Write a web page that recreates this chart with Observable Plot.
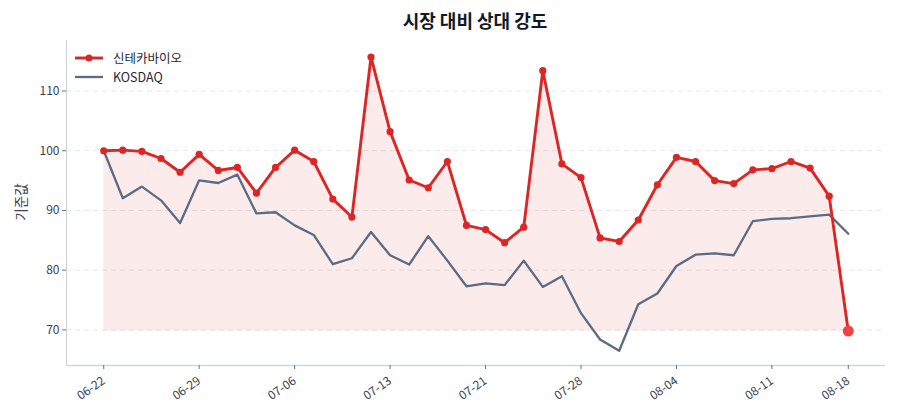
<!DOCTYPE html>
<html><head><meta charset="utf-8">
<script src="https://cdn.jsdelivr.net/npm/d3@7"></script>
<script src="https://cdn.jsdelivr.net/npm/@observablehq/plot@0.6"></script>
<style>
html,body{margin:0;padding:0;background:#fff;overflow:hidden;}
body{font-family:"Noto Sans CJK KR","Noto Sans",sans-serif;}
#wrap{position:relative;width:900px;height:420px;}
#title{position:absolute;left:50px;top:0;width:850px;height:40px;line-height:40px;text-align:center;font-size:18px;font-weight:700;color:#111827;}
#chart{position:absolute;left:0;top:38px;}
#ylabel{position:absolute;left:20px;top:202px;transform:translate(-50%,-50%) rotate(-90deg);font-size:13.5px;color:#374151;white-space:nowrap;}
#legend{position:absolute;left:75px;top:48px;font-size:12.5px;color:#1f2937;}
.row{display:flex;align-items:center;height:19px;}
.row svg{margin-right:10px;}
</style></head>
<body>
<div id="wrap">
  <div id="title">시장 대비 상대 강도</div>
  <div id="chart"></div>
  <div id="ylabel">기준값</div>
  <div id="legend">
    <div class="row"><svg width="28" height="10"><line x1="0" y1="5" x2="28" y2="5" stroke="#dc2626" stroke-width="2.9"/><circle cx="14" cy="5" r="3.5" fill="#dc2626"/></svg>신테카바이오</div>
    <div class="row"><svg width="28" height="10"><line x1="0" y1="5" x2="28" y2="5" stroke="#5b6b84" stroke-width="2.3"/></svg>KOSDAQ</div>
  </div>
</div>
<script>
const dates = ["06-22","06-23","06-24","06-25","06-26","06-29","06-30","07-01","07-02","07-03",
  "07-06","07-07","07-08","07-09","07-10","07-13","07-14","07-15","07-16","07-20",
  "07-21","07-22","07-23","07-24","07-27","07-28","07-29","07-30","07-31","08-03",
  "08-04","08-05","08-06","08-07","08-10","08-11","08-12","08-13","08-14","08-18"];
const stock = [100.0,100.1,99.9,98.7,96.4,99.4,96.7,97.2,92.9,97.2,
  100.1,98.2,91.9,88.9,115.7,103.2,95.1,93.8,98.2,87.5,
  86.8,84.6,87.2,113.4,97.8,95.5,85.4,84.8,88.4,94.3,
  98.9,98.2,95.0,94.5,96.8,97.0,98.2,97.1,92.4,69.8];
const kosdaq = [100.0,92.05,94.0,91.7,87.9,95.05,94.6,96.0,89.5,89.7,
  87.5,85.9,81.0,82.0,86.4,82.5,80.95,85.7,81.6,77.3,
  77.8,77.5,81.6,77.2,79.0,72.8,68.4,66.5,74.3,76.1,
  80.7,82.6,82.8,82.5,88.2,88.6,88.7,89.0,89.3,86.1];
const tickDates = ["06-22","06-29","07-06","07-13","07-21","07-28","08-04","08-11","08-18"];
const yTicks = [70,80,90,100,110];
const seriesNames = ["신테카바이오","KOSDAQ"];

const rows = dates.map((d,i)=>({i, date:d, stock:stock[i], kosdaq:kosdaq[i]}));
const n = dates.length;
const base = d3.min(stock);
const allVals = stock.concat(kosdaq);
const ymin = d3.min(allVals), ymax = d3.max(allVals);
const yPad = (ymax-ymin)*0.05;
const xPad = (n-1)*0.05;
const xDomain = [-xPad, n-1+xPad];
const yDomain = [ymin-yPad, ymax+yPad+0.3];
const xTicks = tickDates.map(d=>dates.indexOf(d));
const last = rows.slice(-1);

const chart = Plot.plot({
  width: 900, height: 382,
  marginLeft: 66, marginRight: 15, marginTop: 2, marginBottom: 55,
  style: {fontFamily: '"Noto Sans CJK KR","Noto Sans",sans-serif', fontSize: "12px", color:"#374151", background:"#fff"},
  x: {domain: xDomain},
  y: {domain: yDomain},
  marks: [
    Plot.ruleY(yTicks, {stroke:"#e5e7eb", strokeDasharray:"5,4", strokeWidth:1}),
    Plot.areaY(rows, {x:"i", y1:()=>base, y2:"stock", fill:"#dc2626", fillOpacity:0.09}),
    Plot.lineY(rows, {x:"i", y:"kosdaq", stroke:"#5b6b84", strokeWidth:2.3}),
    Plot.lineY(rows, {x:"i", y:"stock", stroke:"#dc2626", strokeWidth:2.9}),
    Plot.dot(rows.slice(0,-1), {x:"i", y:"stock", r:3.6, fill:"#dc2626"}),
    Plot.dot(last, {x:"i", y:"stock", r:5.5, fill:"#ef4444"}),
    Plot.ruleX([xDomain[0]], {stroke:"#d1d5db", strokeWidth:1.2}),
    Plot.ruleY([yDomain[0]], {stroke:"#d1d5db", strokeWidth:1.5}),
    Plot.axisY({ticks: yTicks, tickSize: 4, tickPadding: 3, stroke:"#6b7280", fontSize:12, label: null}),
    Plot.axisX({ticks: xTicks, tickFormat: i=>dates[i], tickSize: 4, tickRotate: -35, stroke:"#6b7280",
      tickPadding: 10, label: null, fontSize: 12})
  ]
});
document.getElementById("chart").appendChild(chart);
</script>
</body></html>
